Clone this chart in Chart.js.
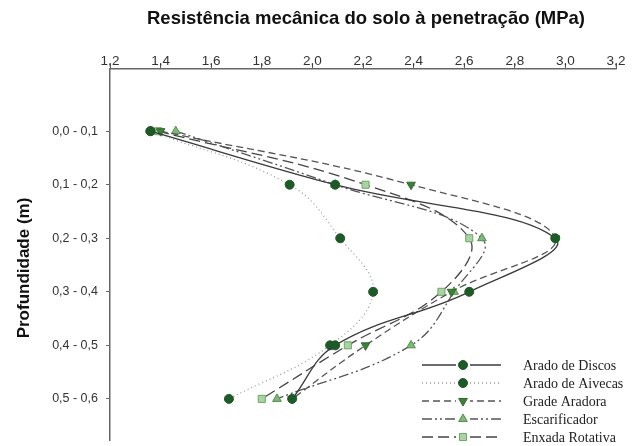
<!DOCTYPE html>
<html>
<head>
<meta charset="utf-8">
<script src="https://cdn.jsdelivr.net/npm/chart.js@4"></script>
<style>
  html, body { margin: 0; padding: 0; background: #fff; }
  #wrap { width: 641px; height: 446px; }
</style>
</head>
<body>
<div id="wrap"><canvas id="grafico"></canvas></div>
<script>
// Profundidades (eixo Y) e valores de resistência (MPa)
const profundidades = ['0,0 - 0,1', '0,1 - 0,2', '0,2 - 0,3', '0,3 - 0,4', '0,4 - 0,5', '0,5 - 0,6'];
const aradoDiscos   = [1.36, 2.09, 2.96, 2.62, 2.09, 1.92];
const aradoAivecas  = [1.36, 1.91, 2.11, 2.24, 2.07, 1.67];
const gradeAradora  = [1.40, 2.39, 2.96, 2.55, 2.21, 1.92];
const escarificador = [1.46, 2.09, 2.67, 2.56, 2.39, 1.86];
const enxadaRotativa = [1.39, 2.21, 2.62, 2.51, 2.14, 1.80];
const tituloX = 'Resistência mecânica do solo à penetração (MPa)';
const tituloY = 'Profundidade (m)';

// Converte a série em pontos {x, y}
function pontos(valores) {
  return valores.map((v, i) => ({ x: v, y: i }));
}

const series = [
  { label: 'Arado de Discos', data: aradoDiscos, dash: [], line: '#3a3a3a', style: 'circle', rot: 0, fill: '#1e5a28', stroke: '#1e5a28' },
  { label: 'Arado de Aivecas', data: aradoAivecas, dash: [1, 3], line: '#9a9a9a', style: 'circle', rot: 0, fill: '#1e5a28', stroke: '#1e5a28' },
  { label: 'Grade Aradora', data: gradeAradora, dash: [7, 4], line: '#555', style: 'triangle', rot: 180, fill: '#3f7f3a', stroke: '#2e6a2c' },
  { label: 'Escarificador', data: escarificador, dash: [10, 3, 2, 3, 2, 3], line: '#555', style: 'triangle', rot: 0, fill: '#7fb878', stroke: '#4f8f4a' },
  { label: 'Enxada Rotativa', data: enxadaRotativa, dash: [11, 5], line: '#444', style: 'rect', rot: 0, fill: '#a9d3a0', stroke: '#6ea668' }
];

function raio(s) {
  return s.style === 'circle' ? 4.5 : 5;
}

const datasets = series.map(s => ({
  label: s.label,
  data: pontos(s.data),
  showLine: true,
  tension: 0.4,
  borderColor: s.line,
  borderWidth: 1.3,
  borderDash: s.dash,
  pointStyle: s.style,
  pointRotation: s.rot,
  pointRadius: raio(s),
  pointBackgroundColor: s.fill,
  pointBorderColor: s.stroke,
  pointBorderWidth: 1
}));

// Textos e legenda desenhados à mão
const textosPlugin = {
  id: 'textos',
  afterDraw(chart) {
    const ctx = chart.ctx;
    ctx.save();
    ctx.fillStyle = '#111';
    ctx.font = 'bold 18.5px "Liberation Sans", Arial, sans-serif';
    ctx.textAlign = 'center';
    ctx.textBaseline = 'middle';
    ctx.fillText(tituloX, 366, 19);

    ctx.font = 'bold 17px "Liberation Sans", Arial, sans-serif';
    ctx.translate(24, 268);
    ctx.rotate(-Math.PI / 2);
    ctx.fillText(tituloY, 0, 0);
    ctx.restore();

    // legenda
    ctx.save();
    series.forEach((s, i) => {
      const y = 365 + i * 18;
      ctx.strokeStyle = s.line;
      ctx.lineWidth = 1.3;
      ctx.setLineDash(s.dash);
      ctx.beginPath();
      ctx.moveTo(422, y);
      ctx.lineTo(501, y);
      ctx.stroke();
      ctx.setLineDash([]);
      ctx.fillStyle = '#fff';
      ctx.fillRect(456, y - 6, 14, 12);
      ctx.fillStyle = s.fill;
      ctx.strokeStyle = s.stroke;
      ctx.lineWidth = 1;
      Chart.helpers.drawPoint(ctx, {
        pointStyle: s.style,
        rotation: s.rot,
        radius: raio(s),
        borderWidth: 1
      }, 463, y);
      ctx.fillStyle = '#222';
      ctx.font = '14px "Liberation Serif", "Times New Roman", serif';
      ctx.textAlign = 'left';
      ctx.textBaseline = 'middle';
      ctx.fillText(s.label, 523, y + 1);
    });
    ctx.restore();
  }
};

new Chart(document.getElementById('grafico'), {
  type: 'scatter',
  data: { datasets },
  options: {
    responsive: true,
    maintainAspectRatio: false,
    animation: false,
    layout: { padding: { top: 0, right: 25, bottom: 0, left: 0 } },
    plugins: { legend: { display: false }, tooltip: { enabled: false } },
    scales: {
      x: {
        type: 'linear',
        position: 'top',
        min: 1.2,
        max: 3.2,
        afterFit(scale) { scale.height = 69; },
        ticks: {
          stepSize: 0.2,
          padding: -6,
          color: '#333',
          font: { family: '"Liberation Sans", Arial, sans-serif', size: 13.5 },
          callback: v => Number(v).toFixed(1).replace('.', ',')
        },
        grid: { display: true, drawOnChartArea: false, drawTicks: true, tickLength: 6, color: '#666' },
        border: { display: true, color: '#666', width: 1.5 }
      },
      y: {
        type: 'linear',
        reverse: true,
        min: -1.161,
        max: 5.768,
        afterFit(scale) {
          scale.width = 110;
          scale.paddingTop = 0;
          scale.paddingBottom = 0;
        },
        afterBuildTicks(scale) {
          scale.ticks = profundidades.map((_, i) => ({ value: i }));
        },
        ticks: {
          padding: 8,
          color: '#333',
          font: { family: '"Liberation Sans", Arial, sans-serif', size: 12.5 },
          callback: v => profundidades[v]
        },
        grid: { display: true, drawOnChartArea: false, drawTicks: true, tickLength: 4, color: '#666' },
        border: { display: true, color: '#666', width: 1.5 }
      }
    }
  },
  plugins: [textosPlugin]
});
</script>
</body>
</html>
